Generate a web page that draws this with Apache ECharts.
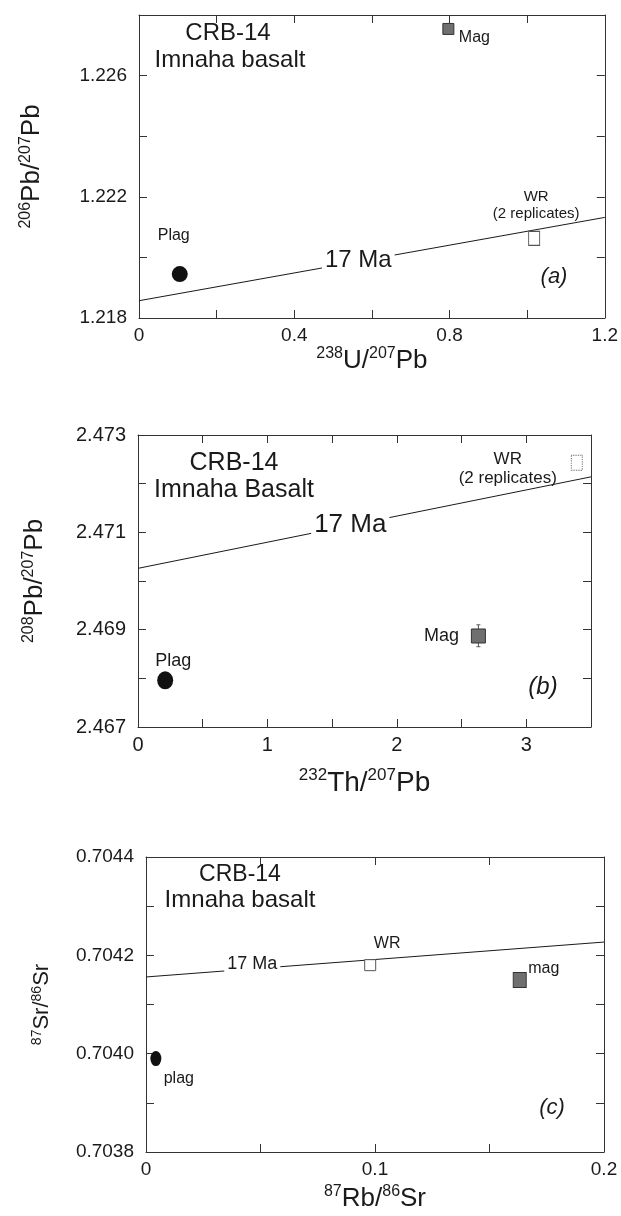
<!DOCTYPE html>
<html>
<head>
<meta charset="utf-8">
<script src="https://cdn.jsdelivr.net/npm/echarts@6/dist/echarts.min.js"></script>
<style>
  html, body { margin: 0; padding: 0; background: #fff; }
  #chart { width: 621px; height: 1216px; }
</style>
</head>
<body>
<div id="chart"></div>
<script>
const FONT = '"Liberation Sans", Arial, Helvetica, sans-serif';
const INK = '#1a1a1a';

// axis ranges: [min, max, tick step, label step]
const aXRange = [0, 1.2, 0.2, 0.4];
const aYRange = [1.218, 1.228, 0.002, 0.004];
const bXRange = [0, 3.5, 0.5, 1];
const bYRange = [2.467, 2.473, 0.001, 0.002];
const cXRange = [0, 0.2, 0.05, 0.1];
const cYRange = [0.7038, 0.7044, 0.0001, 0.0002];

// (a) 238U/207Pb vs 206Pb/207Pb
const aPlag = [[0.105, 1.21945]];
const aMag = [[0.797, 1.22754]];
const aWR = [[1.018, 1.22063]];
const aIsochron = [[0, 1.21857], [1.2, 1.22132]];
const aAgeLabel = [[0.565, 1.21990]];

// (b) 232Th/207Pb vs 208Pb/207Pb
const bPlag = [[0.21, 2.46796]];
const bMag = [[2.63, 2.46887]];
const bMagError = [[2.63, 2.46865, 2.46910]];
const bWR = [[3.39, 2.47243]];
const bIsochron = [[0, 2.47026], [3.5, 2.47214]];
const bAgeLabel = [[1.64, 2.47116]];

// (c) 87Rb/86Sr vs 87Sr/86Sr
const cPlag = [[0.0043, 0.70399]];
const cMag = [[0.1632, 0.70415]];
const cWR = [[0.0979, 0.70418]];
const cIsochron = [[0, 0.704156], [0.2, 0.704227]];
const cAgeLabel = [[0.0464, 0.704182]];

function labelEvery(range, fmt) {
  return function (v) {
    const k = (v - range[0]) / range[3];
    if (Math.abs(k - Math.round(k)) > 1e-6) return '';
    return fmt(v);
  };
}
const trimNum = (d) => (v) => (Math.abs(v) < 1e-12 ? '0' : String(+v.toFixed(d)));

function supName(a, b, c, d) {
  return '{s|' + a + '}{m|' + b + '/}{s|' + c + '}{m|' + d + '}';
}
function nameStyle(size) {
  return {
    fontFamily: FONT,
    color: INK,
    rich: {
      m: { fontSize: size, fontFamily: FONT, color: INK, lineHeight: size * 1.15 },
      s: { fontSize: Math.round(size * 0.62), fontFamily: FONT, color: INK, verticalAlign: 'top', lineHeight: size * 1.15 }
    }
  };
}

const line = { show: true, onZero: false, lineStyle: { color: '#333', width: 1 } };
const tick = (len) => ({ show: true, inside: true, length: len, lineStyle: { color: '#333', width: 1 } });

function xAxes(grid, range, fmt, name, size, gap, fontSize) {
  const base = { type: 'value', gridIndex: grid, min: range[0], max: range[1], interval: range[2], splitLine: { show: false }, axisLine: line, axisTick: tick(8) };
  return [
    Object.assign({}, base, {
      position: 'bottom',
      axisLabel: { fontFamily: FONT, fontSize: fontSize, color: INK, margin: 8, formatter: labelEvery(range, fmt) },
      name: name, nameLocation: 'middle', nameGap: gap, nameTextStyle: nameStyle(size)
    }),
    Object.assign({}, base, { position: 'top', axisLabel: { show: false } })
  ];
}
function yAxes(grid, range, fmt, name, size, gap, fontSize) {
  const base = { type: 'value', gridIndex: grid, min: range[0], max: range[1], interval: range[2], splitLine: { show: false }, axisLine: line, axisTick: tick(8) };
  return [
    Object.assign({}, base, {
      position: 'left',
      axisLabel: { fontFamily: FONT, fontSize: fontSize, color: INK, margin: 12, formatter: labelEvery(range, fmt) },
      name: name, nameLocation: 'middle', nameRotate: 90, nameGap: gap, nameTextStyle: nameStyle(size)
    }),
    Object.assign({}, base, { position: 'right', axisLabel: { show: false } })
  ];
}

function isochron(i, data) {
  return { type: 'line', xAxisIndex: 2 * i, yAxisIndex: 2 * i, data: data, symbol: 'none', z: 3,
    lineStyle: { color: INK, width: 1 } };
}
function ageLabel(i, data, size) {
  return { type: 'scatter', xAxisIndex: 2 * i, yAxisIndex: 2 * i, data: data, symbolSize: 0, z: 10,
    itemStyle: { opacity: 1 },
    label: { show: true, position: 'inside', formatter: '17 Ma', fontFamily: FONT, fontSize: size, color: INK,
      backgroundColor: '#fff', padding: [1, 3] } };
}
function plag(i, data, size, label) {
  return { type: 'scatter', xAxisIndex: 2 * i, yAxisIndex: 2 * i, data: data, symbol: 'circle', symbolSize: size, z: 5,
    itemStyle: { color: '#111', opacity: 1 }, label: label };
}
function mag(i, data, size, label) {
  return { type: 'scatter', xAxisIndex: 2 * i, yAxisIndex: 2 * i, data: data, symbol: 'rect', symbolSize: size, z: 5,
    itemStyle: { color: '#6f6f6f', borderColor: '#333', borderWidth: 1, opacity: 1 }, label: label };
}
function wr(i, data, size, label, dashed) {
  return { type: 'scatter', xAxisIndex: 2 * i, yAxisIndex: 2 * i, data: data, symbol: 'rect', symbolSize: size, z: 5,
    itemStyle: { color: '#fff', borderColor: '#555', borderWidth: 1, borderType: dashed ? 'dotted' : 'solid', opacity: 1 }, label: label };
}
// point labels are centred on the point, then shifted
function lab(text, offset, size) {
  return { show: true, formatter: text, position: 'inside', offset: offset,
    fontFamily: FONT, fontSize: size, color: INK, lineHeight: Math.round(size * 1.12), align: 'center' };
}

function annotation(text, x, y, size, italic) {
  return { type: 'text', x: x, y: y, silent: true,
    style: { text: text, fill: INK, font: (italic ? 'italic ' : '') + size + 'px ' + FONT, textAlign: 'center', textVerticalAlign: 'middle' } };
}

const chart = echarts.init(document.getElementById('chart'), null, { renderer: 'canvas' });

chart.setOption({
  animation: false,
  backgroundColor: '#fff',
  grid: [
    { left: 139, right: 15, top: 15, height: 303 },
    { left: 138, right: 30, top: 435, height: 292 },
    { left: 146, right: 17, top: 857, height: 295 }
  ],
  xAxis: [].concat(
    xAxes(0, aXRange, trimNum(1), supName('238', 'U', '207', 'Pb'), 26, 26, 19),
    xAxes(1, bXRange, trimNum(0), supName('232', 'Th', '207', 'Pb'), 28, 40, 20),
    xAxes(2, cXRange, trimNum(1), supName('87', 'Rb', '86', 'Sr'), 26, 32, 19)
  ),
  yAxis: [].concat(
    yAxes(0, aYRange, (v) => v.toFixed(3), supName('206', 'Pb', '207', 'Pb'), 26, 92, 19),
    yAxes(1, bYRange, (v) => v.toFixed(3), supName('208', 'Pb', '207', 'Pb'), 26, 88, 20),
    yAxes(2, cYRange, (v) => v.toFixed(4), supName('87', 'Sr', '86', 'Sr'), 22, 91, 19)
  ),
  graphic: [
    annotation('CRB-14', 228, 33, 24),
    annotation('Imnaha basalt', 230, 60, 24),
    annotation('(a)', 554, 277, 22, true),
    annotation('CRB-14', 234, 463, 25),
    annotation('Imnaha Basalt', 234, 490, 25),
    annotation('(b)', 543, 687, 24, true),
    annotation('CRB-14', 240, 875, 23),
    annotation('Imnaha basalt', 240, 900, 24),
    annotation('(c)', 552, 1108, 22, true)
  ],
  series: [
    // (a)
    isochron(0, aIsochron),
    ageLabel(0, aAgeLabel, 24),
    plag(0, aPlag, 16, lab('Plag', [-6, -38], 16)),
    mag(0, aMag, 11, lab('Mag', [26, 9], 16)),
    wr(0, aWR, [11, 14], lab('WR\n(2 replicates)', [2, -33], 15), false),
    // (b)
    isochron(1, bIsochron),
    ageLabel(1, bAgeLabel, 26),
    plag(1, bPlag, [16, 18], lab('Plag', [8, -19], 18)),
    mag(1, bMag, 14, lab('Mag', [-37, 0], 18)),
    {
      type: 'custom', xAxisIndex: 2, yAxisIndex: 2, data: bMagError, z: 4,
      renderItem: function (params, api) {
        const lo = api.coord([api.value(0), api.value(1)]);
        const hi = api.coord([api.value(0), api.value(2)]);
        const s = { stroke: '#555', lineWidth: 1 };
        return { type: 'group', children: [
          { type: 'line', shape: { x1: lo[0], y1: lo[1], x2: hi[0], y2: hi[1] }, style: s },
          { type: 'line', shape: { x1: lo[0] - 2, y1: lo[1], x2: lo[0] + 2, y2: lo[1] }, style: s },
          { type: 'line', shape: { x1: hi[0] - 2, y1: hi[1], x2: hi[0] + 2, y2: hi[1] }, style: s }
        ] };
      }
    },
    wr(1, bWR, [11, 15], lab('WR\n(2 replicates)', [-69, 6], 17), true),
    // (c)
    isochron(2, cIsochron),
    ageLabel(2, cAgeLabel, 18),
    plag(2, cPlag, [11, 15], lab('plag', [23, 20], 16)),
    mag(2, cMag, [13, 15], lab('mag', [24, -11], 16)),
    wr(2, cWR, 11, lab('WR', [17, -22], 16), false)
  ]
});
</script>
</body>
</html>
